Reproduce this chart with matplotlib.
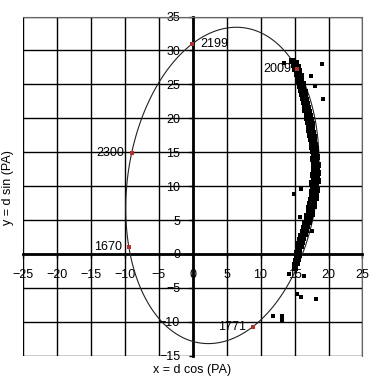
import numpy as np
import matplotlib
matplotlib.use('Agg')
import matplotlib.pyplot as plt

plt.rcParams['font.family'] = ['Liberation Sans', 'DejaVu Sans']

# dated orbit positions (x = d cos PA, y = d sin PA)
orbit_years = ['2199', '2300', '1670', '1771', '2009']
orbit_x = [-0.05, -8.97, -9.37, 8.9, 15.4]
orbit_y = [30.97, 14.85, 0.99, -10.7, 27.3]

# measured positions, main band
band_x = [15.1, 15.0, 15.3, 15.2, 15.5, 15.3, 15.6, 15.4, 15.7, 15.5, 15.9, 15.7, 16.1, 15.8,
          16.3, 16.0, 16.5, 16.2, 16.7, 16.4, 16.9, 16.6, 17.1, 16.8, 17.3, 16.9, 17.5, 17.1,
          17.6, 17.2, 17.8, 17.3, 17.9, 17.4, 18.1, 17.5, 18.2, 17.6, 18.3, 17.7, 18.2, 17.6,
          18.4, 17.8, 18.3, 17.7, 18.4, 17.9, 18.3, 17.8, 18.4, 17.9, 18.2, 17.7, 18.3, 17.8,
          18.2, 17.7, 18.1, 17.6, 18.0, 17.5, 17.9, 17.4, 17.8, 17.3, 17.7, 17.2, 17.6, 17.1,
          17.5, 17.0, 17.4, 16.9, 17.3, 16.8, 17.1, 16.6, 17.0, 16.5, 16.9, 16.4, 16.7, 16.2,
          16.6, 16.1, 16.5, 15.9, 16.3, 15.8, 16.2, 15.6, 16.0, 15.5, 15.9, 15.3, 15.7, 15.1,
          15.5, 14.9, 15.2, 14.6]
band_y = [-2.0, -1.6, -1.3, -1.0, -0.7, -0.4, -0.1, 0.2, 0.5, 0.8, 1.1, 1.4, 1.7, 2.0,
          2.3, 2.6, 2.9, 3.2, 3.5, 3.8, 4.1, 4.4, 4.7, 5.0, 5.3, 5.6, 5.9, 6.2,
          6.5, 6.8, 7.1, 7.4, 7.7, 8.0, 8.3, 8.6, 8.9, 9.2, 9.5, 9.8, 10.1, 10.4,
          10.7, 11.0, 11.3, 11.6, 11.9, 12.2, 12.5, 12.8, 13.1, 13.4, 13.7, 14.0, 14.3, 14.6,
          14.9, 15.2, 15.5, 15.8, 16.1, 16.4, 16.7, 17.0, 17.3, 17.6, 17.9, 18.2, 18.5, 18.8,
          19.1, 19.4, 19.7, 20.0, 20.3, 20.6, 20.9, 21.2, 21.5, 21.8, 22.1, 22.4, 22.7, 23.0,
          23.3, 23.6, 23.9, 24.2, 24.5, 24.8, 25.1, 25.4, 25.7, 26.0, 26.3, 26.6, 26.9, 27.2,
          27.5, 27.8, 28.1, 28.4]

# scattered measurements
out_x = [19.0, 19.2, 17.4, 18.0, 13.5, 14.9, 15.9, 15.8, 17.5, 14.2, 16.4, 15.4, 16.0, 18.1,
         11.9, 13.1, 13.1]
out_y = [28.0, 22.9, 26.3, 24.8, 28.1, 8.9, 9.6, 5.4, 3.4, -3.0, -3.2, -5.9, -6.3, -6.6,
         -9.1, -9.1, -9.7]

xticks = [-25, -20, -15, -10, -5, 0, 5, 10, 15, 20, 25]
yticks = [-15, -10, -5, 0, 5, 10, 15, 20, 25, 30, 35]

fig = plt.figure(figsize=(3.84, 3.76), dpi=100)
ax = fig.add_axes([0.059, 0.054, 0.885, 0.902])

# orbit ellipse: conic through the five dated points
ox = np.array(orbit_x)
oy = np.array(orbit_y)
M = np.column_stack([ox**2, ox*oy, oy**2, ox, oy])
A, B, C, D, E = np.linalg.solve(M, np.ones(5))
gx, gy = np.meshgrid(np.linspace(-25, 25, 900), np.linspace(-15, 35, 900))
F = A*gx**2 + B*gx*gy + C*gy**2 + D*gx + E*gy - 1
ax.contour(gx, gy, F, levels=[0], colors='#222222', linewidths=0.8, zorder=3)

ax.scatter(band_x, band_y, marker='s', s=13, color='black', linewidths=0, zorder=4)
ax.scatter(out_x, out_y, marker='s', s=11, color='black', linewidths=0, zorder=4)
ax.scatter(orbit_x, orbit_y, marker='s', s=8, color='#b03030', linewidths=0, zorder=5)

offsets = {'2199': (6, 0, 'left'), '2300': (-5, 0, 'right'), '1670': (-5, 0, 'right'),
           '1771': (-5, 0, 'right'), '2009': (-4, 0, 'right')}
for yr, x, y in zip(orbit_years, orbit_x, orbit_y):
    dx, dy, ha = offsets[yr]
    ax.annotate(yr, (x, y), xytext=(dx, dy), textcoords='offset points',
                ha=ha, va='center', fontsize=9, zorder=6)

ax.set_xlim(-25, 25)
ax.set_ylim(-15, 35)
ax.set_xticks(xticks)
ax.set_yticks(yticks)
ax.grid(True, color='black', linewidth=1.0)
ax.set_axisbelow(True)

ax.spines['left'].set_position(('data', 0))
ax.spines['bottom'].set_position(('data', 0))
ax.spines['left'].set_linewidth(2)
ax.spines['bottom'].set_linewidth(2)
for s in ['top', 'right']:
    ax.spines[s].set_color('#666666')
    ax.spines[s].set_linewidth(0.8)
ax.tick_params(axis='both', direction='out', length=3, width=1, labelsize=9)
ax.tick_params(axis='x', pad=8)
ax.tick_params(axis='y', pad=6)

fig.text(0.5, 0.016, 'x = d cos (PA)', ha='center', va='center', fontsize=9)
fig.text(0.022, 0.5, 'y = d sin (PA)', ha='center', va='center', rotation=90, fontsize=9)

fig.savefig('out.png', dpi=100, facecolor='white')
